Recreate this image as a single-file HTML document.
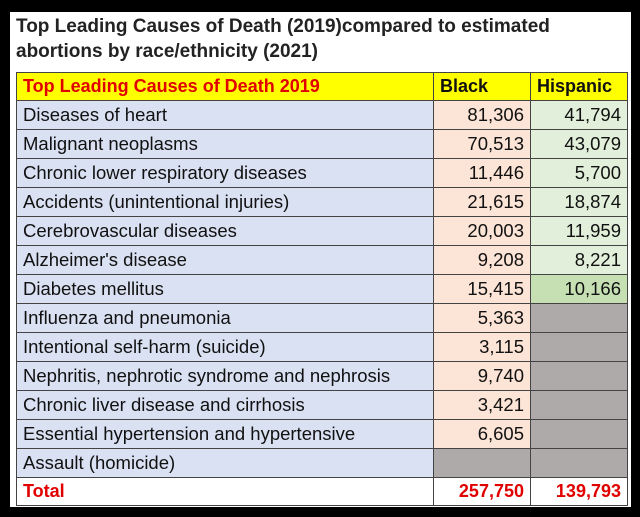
<!DOCTYPE html>
<html><head><style>
html,body{margin:0;padding:0;}
body{width:640px;height:517px;background:#000;position:relative;overflow:hidden;font-family:"Liberation Sans",sans-serif;}
#w{position:absolute;left:10px;top:12px;width:621px;height:495px;background:#fff;}
.t{position:absolute;left:16px;font-weight:bold;font-size:19px;color:#222;white-space:nowrap;}
table{position:absolute;left:16px;top:72px;border-collapse:collapse;table-layout:fixed;}
td{border:1px solid #444;height:28px;padding:0 6px;font-size:18.5px;color:#111;white-space:nowrap;overflow:hidden;}
td.a{width:404px;background:#d9e1f2;}
td.b{width:84px;background:#fce4d6;text-align:right;}
td.c{width:84px;background:#e2efda;text-align:right;}
td.g{background:#aeaaaa;}
tr.h td{background:#ffff00;font-weight:bold;height:27px;font-size:18px;}
tr.h td.a{color:#e00000;}
tr.tot td{background:#fff;color:#e00000;font-weight:bold;height:27px;font-size:18px;}
</style></head><body>
<div id="w"></div>
<div class="t" style="top:16px">Top Leading Causes of Death (2019)compared to estimated</div>
<div class="t" style="top:41px">abortions by race/ethnicity (2021)</div>
<table>
<tr class="h"><td class="a">Top Leading Causes of Death 2019</td><td class="b" style="text-align:left">Black</td><td class="c" style="text-align:left">Hispanic</td></tr>
<tr><td class="a">Diseases of heart</td><td class="b">81,306</td><td class="c">41,794</td></tr>
<tr><td class="a">Malignant neoplasms</td><td class="b">70,513</td><td class="c">43,079</td></tr>
<tr><td class="a">Chronic lower respiratory diseases</td><td class="b">11,446</td><td class="c">5,700</td></tr>
<tr><td class="a">Accidents (unintentional injuries)</td><td class="b">21,615</td><td class="c">18,874</td></tr>
<tr><td class="a">Cerebrovascular diseases</td><td class="b">20,003</td><td class="c">11,959</td></tr>
<tr><td class="a">Alzheimer's disease</td><td class="b">9,208</td><td class="c">8,221</td></tr>
<tr><td class="a">Diabetes mellitus</td><td class="b">15,415</td><td class="c" style="background:#c6e0b4">10,166</td></tr>
<tr><td class="a">Influenza and pneumonia</td><td class="b">5,363</td><td class="c g"></td></tr>
<tr><td class="a">Intentional self-harm (suicide)</td><td class="b">3,115</td><td class="c g"></td></tr>
<tr><td class="a">Nephritis, nephrotic syndrome and nephrosis</td><td class="b">9,740</td><td class="c g"></td></tr>
<tr><td class="a">Chronic liver disease and cirrhosis</td><td class="b">3,421</td><td class="c g"></td></tr>
<tr><td class="a">Essential hypertension and hypertensive</td><td class="b">6,605</td><td class="c g"></td></tr>
<tr><td class="a">Assault (homicide)</td><td class="b g"></td><td class="c g"></td></tr>
<tr class="tot"><td class="a">Total</td><td class="b">257,750</td><td class="c">139,793</td></tr>
</table>
</body></html>
